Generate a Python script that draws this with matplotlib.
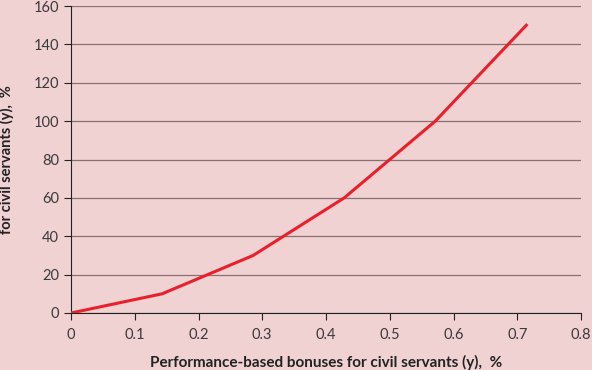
import matplotlib
matplotlib.use("Agg")
import matplotlib.pyplot as plt

x_values = [0, 1/7, 2/7, 3/7, 4/7, 5/7]
y_values = [0, 10, 30, 60, 100, 150]
x_ticks = [0, 0.1, 0.2, 0.3, 0.4, 0.5, 0.6, 0.7, 0.8]
x_tick_labels = ["0", "0.1", "0.2", "0.3", "0.4", "0.5", "0.6", "0.7", "0.8"]
y_ticks = [0, 20, 40, 60, 80, 100, 120, 140, 160]

plt.rcParams['font.family'] = ['Lato', 'DejaVu Sans']
bg = "#F0D2D3"
fig = plt.figure(figsize=(5.92, 3.70), dpi=100, facecolor=bg)
ax = fig.add_axes([71/592, 1 - 313/370, 510/592, 307/370])
ax.set_facecolor(bg)

ax.plot(x_values, y_values, color="#E8202B", linewidth=2.2, solid_joinstyle="miter", zorder=3)

ax.set_xlim(0, 0.8)
ax.set_ylim(0, 160)
ax.set_xticks(x_ticks)
ax.set_xticklabels(x_tick_labels)
ax.set_yticks(y_ticks)
ax.grid(axis="y", color="#8A7070", linewidth=0.9)
ax.set_axisbelow(True)
for s in ["top", "right"]:
    ax.spines[s].set_visible(False)
ax.spines["left"].set_color("#222222")
ax.spines["bottom"].set_color("#222222")
ax.tick_params(axis="both", direction="out", length=5, color="#222222", labelsize=10.5, labelcolor="#3a3a3a")
ax.tick_params(axis="x", pad=6)

ax.set_xlabel("Performance-based bonuses for civil servants (y),  %", fontsize=11,
              fontweight="bold", color="#222222", labelpad=9)
ax.set_ylabel("for civil servants (y),  %", fontsize=10.5, fontweight="bold",
              color="#222222", labelpad=14)

fig.savefig("out.png", dpi=100, facecolor=bg)
